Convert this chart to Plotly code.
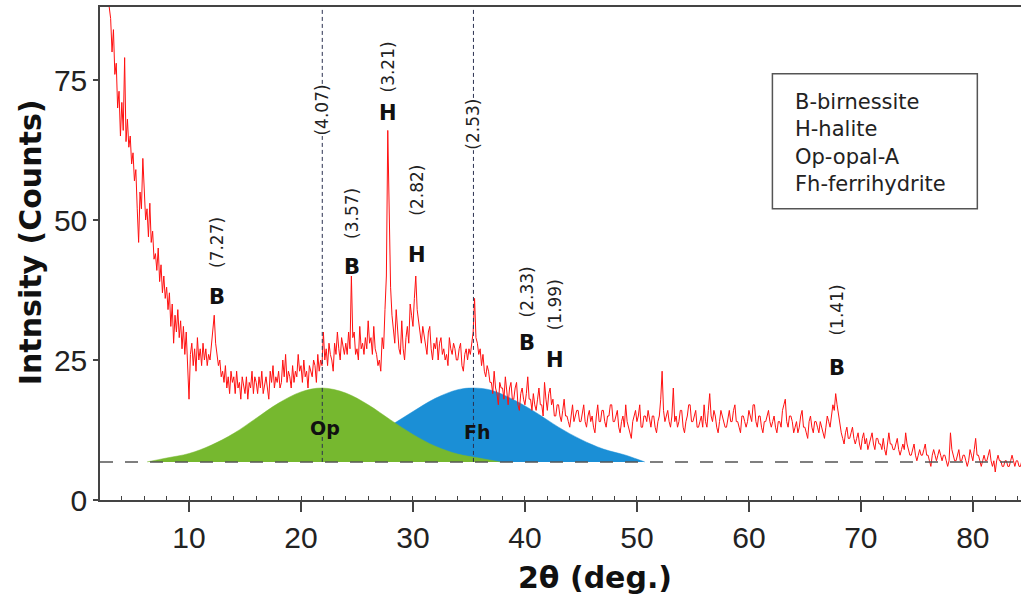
import plotly.graph_objects as go

# ---------------- data ----------------
X_START = 2.25    # first 2-theta of the scan (deg.)
X_STEP = 0.125    # scan step (deg.)
counts = [
    100, 97, 95, 92, 90, 88,                 # 2.25 - 2.875
    86, 80, 84, 76, 78, 70, 73, 65,          # 3
    71, 66, 79, 64, 68, 63, 65, 60,          # 4
    62, 57, 59, 52, 46, 55, 52, 61,          # 5
    54, 50, 52, 47, 53, 46, 48, 43,          # 6
    44, 41, 45, 39, 42, 37, 40, 36,          # 7
    38, 34, 37, 31, 35, 28, 33, 30,          # 8
    34, 29, 32, 27, 31, 26, 30, 25,          # 9
    18, 26, 28, 24, 27, 23, 29, 25,          # 10
    27, 24, 28, 25, 27, 24, 26, 25,          # 11
    28, 30, 33, 28, 26, 24, 25, 22,          # 12
    23, 21, 24, 20, 22, 19, 23, 21,          # 13
    22, 19, 23, 20, 21, 18, 22, 20,          # 14
    19, 22, 18, 21, 20, 23, 19, 22,          # 15
    21, 19, 22, 20, 23, 19, 21, 22,          # 16
    20, 18, 23, 21, 24, 20, 22, 21,          # 17
    23, 20, 21, 25, 22, 26, 21, 23,          # 18
    22, 20, 24, 21, 23, 22, 26, 23,          # 19
    24, 21, 25, 22, 23, 20, 24, 23,          # 20
    22, 25, 24, 21, 26, 23, 25, 24,          # 21
    30, 25, 27, 24, 28, 26, 25, 23,          # 22
    28, 26, 30, 27, 25, 29, 27, 26,          # 23
    28, 26, 30, 27, 40, 29, 30, 26,          # 24
    27, 25, 31, 27, 28, 26, 29, 27,          # 25
    32, 28, 29, 26, 31, 27, 26, 24,          # 26
    25, 23, 29, 27, 34, 40, 66, 51,          # 27
    38, 33, 30, 28, 34, 31, 27, 26,          # 28
    32, 27, 25, 29, 31, 28, 35, 33,          # 29
    31, 36, 40, 34, 32, 30, 28, 31,          # 30
    29, 27, 26, 30, 31, 27, 25, 28,          # 31
    27, 29, 25, 28, 29, 26, 27, 25,          # 32
    26, 24, 29, 27, 26, 28, 27, 25,          # 33
    25, 27, 28, 24, 23, 26, 27, 25,          # 34
    27, 26, 28, 30, 36, 29, 28, 26,          # 35
    27, 24, 26, 23, 22, 24, 23, 21,          # 36
    21, 19, 23, 20, 19, 17, 21, 20,          # 37
    20, 18, 22, 19, 17, 20, 21, 18,          # 38
    18, 20, 21, 17, 16, 19, 20, 18,          # 39
    17, 19, 22, 18, 18, 16, 19, 17,          # 40
    16, 18, 20, 17, 17, 15, 21, 18,          # 41
    16, 19, 20, 17, 18, 15, 15, 17,          # 42
    17, 15, 14, 16, 18, 15, 15, 14,          # 43
    13, 15, 17, 14, 15, 16, 16, 14,          # 44
    14, 16, 17, 14, 13, 15, 16, 14,          # 45
    15, 13, 12, 15, 17, 14, 14, 16,          # 46
    16, 14, 13, 15, 15, 17, 17, 14,          # 47
    14, 15, 16, 13, 12, 14, 15, 13,          # 48
    17, 14, 13, 12, 11, 14, 15, 16,          # 49
    14, 15, 17, 13, 13, 15, 15, 14,          # 50
    16, 14, 13, 15, 15, 13, 12, 14,          # 51
    15, 18, 23, 16, 14, 15, 16, 14,          # 52
    13, 15, 20, 14, 15, 13, 14, 16,          # 53
    16, 13, 12, 14, 15, 17, 17, 14,          # 54
    14, 15, 16, 13, 13, 14, 15, 13,          # 55
    17, 14, 13, 16, 19, 15, 14, 16,          # 56
    15, 13, 12, 14, 16, 15, 14, 13,          # 57
    13, 15, 16, 14, 14, 16, 17, 14,          # 58
    14, 13, 12, 15, 15, 14, 13, 14,          # 59
    16, 15, 14, 17, 17, 14, 13, 15,          # 60
    15, 13, 12, 14, 14, 15, 16, 14,          # 61
    13, 14, 15, 13, 12, 14, 14, 13,          # 62
    16, 17, 18, 14, 13, 15, 15, 14,          # 63
    12, 13, 14, 12, 13, 15, 16, 13,          # 64
    13, 12, 11, 14, 15, 13, 12, 14,          # 65
    14, 13, 12, 14, 13, 12, 11, 13,          # 66
    15, 14, 13, 15, 17, 16, 19, 17,          # 67
    15, 13, 12, 11, 10, 12, 13, 11,          # 68
    11, 12, 13, 11, 10, 11, 12, 10,          # 69
    9, 11, 12, 10, 11, 9, 10, 11,            # 70
    12, 10, 9, 11, 11, 10, 10, 9,            # 71
    11, 9, 8, 10, 12, 10, 10, 9,             # 72
    9, 10, 11, 9, 8, 9, 10, 9,               # 73
    12, 10, 9, 8, 8, 9, 10, 8,               # 74
    7, 8, 9, 8, 8, 9, 10, 8,                 # 75
    8, 7, 6, 8, 9, 8, 7, 8,                  # 76
    9, 8, 7, 8, 8, 7, 6, 7,                  # 77
    12, 9, 8, 7, 7, 8, 9, 7,                 # 78
    7, 8, 8, 7, 6, 7, 9, 8,                  # 79
    7, 9, 11, 8, 8, 7, 6, 7,                 # 80
    8, 7, 7, 8, 9, 7, 6, 7,                  # 81
    5, 7, 8, 7, 7, 6, 6, 7,                  # 82
    7, 6, 6, 7, 8, 7, 6, 7,                  # 83
    7, 6, 6, 7, 6, 6,                        # 84
]
two_theta = [round(X_START + i * X_STEP, 3) for i in range(len(counts))]

baseline = 6.8

# fitted amorphous humps
op_x = [6.25, 8, 10, 12, 14, 16, 18, 20, 21.9, 24, 26, 28, 30, 32, 34, 36, 37.8]
op_y = [6.8, 7.5, 8.3, 9.8, 11.9, 14.6, 17.3, 19.3, 20.0, 19.1, 17.0, 14.3, 11.7, 9.6, 8.2, 7.45, 6.8]
fh_x = [18, 20, 22, 24, 26, 28, 30, 32, 34, 35.4, 37, 39, 41, 43, 45, 47, 49, 50, 50.7]
fh_y = [6.8, 7.4, 8.1, 9.2, 11.0, 13.3, 15.8, 18.15, 19.7, 20.0, 19.6, 17.9, 15.6, 13.0, 10.8, 9.1, 8.0, 7.3, 6.8]

# peak labels
peak_phase = ["B", "B", "H", "H", "B", "H", "B"]
peak_d = ["(7.27)", "(3.57)", "(3.21)", "(2.82)", "(2.33)", "(1.99)", "(1.41)"]
peak_x = [12.5, 24.55, 27.8, 30.35, 40.2, 42.7, 67.9]
letter_y = [36.3, 41.6, 69.1, 43.75, 28.0, 25.0, 23.6]
dlabel_y = [45.9, 51.25, 77.3, 55.4, 37.1, 34.8, 33.9]

# reference dashed lines (hump maxima)
vline_x = [21.9, 35.4]
vline_d = ["(4.07)", "(2.53)"]
vline_label_y = [69.6, 67.1]

legend_lines = ["B-birnessite", "H-halite", "Op-opal-A", "Fh-ferrihydrite"]
x_ticks = [10, 20, 30, 40, 50, 60, 70, 80]
y_ticks = [0, 25, 50, 75]

# ---------------- figure ----------------
fig = go.Figure()

fig.add_trace(go.Scatter(
    x=fh_x, y=fh_y, mode="lines", fill="toself", fillcolor="#1b8fd6",
    line=dict(color="#1b8fd6", width=0.5, shape="spline"), hoverinfo="skip", showlegend=False))
fig.add_trace(go.Scatter(
    x=op_x, y=op_y, mode="lines", fill="toself", fillcolor="#76b82f",
    line=dict(color="#76b82f", width=0.5, shape="spline"), hoverinfo="skip", showlegend=False))
fig.add_trace(go.Scatter(
    x=two_theta, y=counts, mode="lines",
    line=dict(color="#ff1010", width=1), showlegend=False))

shapes = []
shapes.append(dict(type="line", xref="x", yref="y", x0=2.05, x1=84.3, y0=baseline, y1=baseline,
                   line=dict(color="#555555", width=1.5, dash="13px,12px"), layer="above"))
for vx in vline_x:
    shapes.append(dict(type="line", xref="x", yref="y", x0=vx, x1=vx, y0=baseline, y1=88.04,
                       line=dict(color="#2a3050", width=1, dash="4px,3px"), layer="above"))
shapes.append(dict(type="rect", xref="x", yref="y", x0=62.1, x1=80.4, y0=52.0, y1=76.1,
                   line=dict(color="#555555", width=1.5), fillcolor="white", layer="above"))

ann = []
for ph, d, px, ly, dy in zip(peak_phase, peak_d, peak_x, letter_y, dlabel_y):
    ann.append(dict(x=px, y=ly, xref="x", yref="y", text="<b>%s</b>" % ph, showarrow=False,
                    font=dict(family="DejaVu Sans", size=21, color="#111111")))
    ann.append(dict(x=px, y=dy, xref="x", yref="y", text=d, showarrow=False, textangle=-90,
                    font=dict(family="DejaVu Sans", size=17, color="#222222")))
for vx, d, vy in zip(vline_x, vline_d, vline_label_y):
    ann.append(dict(x=vx, y=vy, xref="x", yref="y", text=d, showarrow=False, textangle=-90,
                    bgcolor="white", borderpad=0,
                    font=dict(family="DejaVu Sans", size=17, color="#222222")))
ann.append(dict(x=22.1, y=12.9, xref="x", yref="y", text="<b>Op</b>", showarrow=False,
                font=dict(family="DejaVu Sans", size=19, color="#111111")))
ann.append(dict(x=35.8, y=12.1, xref="x", yref="y", text="<b>Fh</b>", showarrow=False,
                font=dict(family="DejaVu Sans", size=19, color="#111111")))
ann.append(dict(x=63.9, y=63.8, xref="x", yref="y", text="<br>".join(legend_lines),
                showarrow=False, xanchor="left", yanchor="middle", align="left",
                font=dict(family="DejaVu Sans", size=21, color="#222222")))
# axis titles
ann.append(dict(x=46.25, y=-0.158, xref="x", yref="paper", text="<b>2θ (deg.)</b>",
                showarrow=False, yanchor="middle",
                font=dict(family="DejaVu Sans", size=30, color="#111111")))
ann.append(dict(x=-0.076, y=0.523, xref="paper", yref="paper", text="<b>Intnsity (Counts)</b>",
                showarrow=False, textangle=-90, xanchor="center", yanchor="middle",
                font=dict(family="DejaVu Sans", size=30, color="#111111")))

fig.update_layout(
    width=1021, height=605,
    margin=dict(l=100, r=0, t=7, b=105),
    paper_bgcolor="white", plot_bgcolor="white",
    shapes=shapes, annotations=ann,
    xaxis=dict(range=[2.05, 84.3], tickvals=x_ticks, ticks="outside", ticklen=10, tickwidth=1.5,
               tickcolor="#444444", showline=True, linecolor="#444444", linewidth=1.5,
               mirror=True, showgrid=False, zeroline=False,
               tickfont=dict(family="Liberation Sans", size=30, color="#222222"),
               minor=dict(dtick=2, tick0=0, ticks="inside", ticklen=4, tickwidth=1.2,
                          tickcolor="#444444", showgrid=False)),
    yaxis=dict(range=[0, 88.04], tickvals=y_ticks, ticks="outside", ticklen=5, tickwidth=1.5,
               tickcolor="#444444", showline=True, linecolor="#444444", linewidth=1.5,
               showgrid=False, zeroline=False,
               tickfont=dict(family="Liberation Sans", size=30, color="#222222")),
)

fig.write_html("out.html")
